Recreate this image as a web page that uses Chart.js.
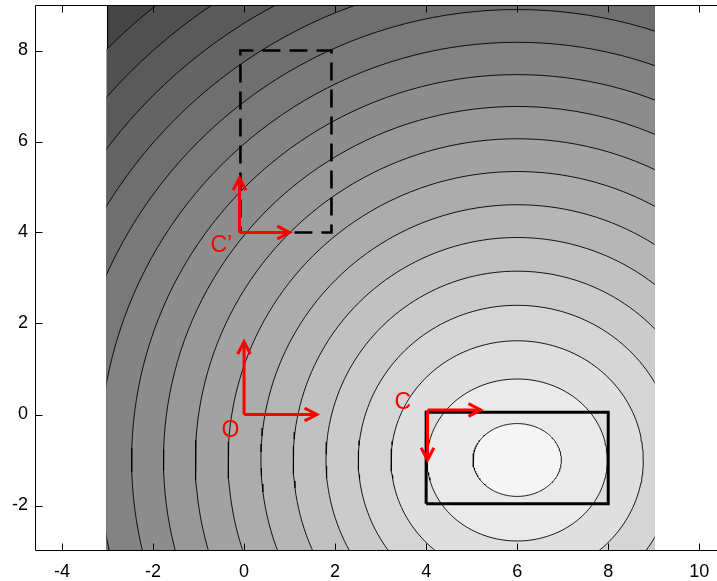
<!DOCTYPE html>
<html><head><meta charset="utf-8">
<script src="https://cdn.jsdelivr.net/npm/chart.js@4/dist/chart.umd.min.js"></script>
<style>html,body{margin:0;padding:0;background:#fff;}#wrap{width:717px;height:581px;position:relative;}</style>
</head><body><div id="wrap"><canvas id="c"></canvas></div>
<script>
// ---- data ----
const xTicks = [-4, -2, 0, 2, 4, 6, 8, 10];
const yTicks = [-2, 0, 2, 4, 6, 8];
const xRange = [-4.593, 10.39];
const yRange = [-3, 9];
const fieldX = [-3, 9];
const fieldY = [-3, 9];
const center = [6, -1];
// contour radii (horizontal / vertical), innermost first
const levelRx = [0.97, 1.98, 2.77, 3.49, 4.20, 4.92, 5.63, 6.35, 7.07, 7.77, 8.47, 9.18, 9.90, 10.61, 11.32, 12.04, 12.76];
const levelRy = [0.80, 1.78, 2.62, 3.40, 4.15, 4.89, 5.61, 6.34, 7.06, 7.77, 8.47, 9.18, 9.90, 10.61, 11.32, 12.04, 12.76];
// gray value of each band, innermost band first, last = outside all contours
const bandGray = [245, 234, 223, 213, 203, 193, 182, 172, 162, 152, 141, 131, 121, 111, 100, 90, 80, 70];
const solidRect = [[4, -1.96], [8, 0.05]];
const dashedRect = [[-0.08, 4], [1.92, 8]];
const arrowFrom = [[0, 0], [0, 0], [-0.1, 4], [-0.1, 4], [4.03, 0.1], [4.03, 0.1]];
const arrowTo = [[1.6, 0], [0, 1.6], [1.0, 4], [-0.1, 5.2], [5.2, 0.1], [4.03, -1.0]];
const labelText = ['O', 'C\u2019', 'C'];
const labelPos = [[-0.3, -0.35], [-0.5, 3.7], [3.49, 0.25]];

const gray = v => `rgb(${v},${v},${v})`;
const datasets = [];

// field background (outermost band)
datasets.push({
  data: [{x: fieldX[0], y: fieldY[0]}, {x: fieldX[1], y: fieldY[0]}, {x: fieldX[1], y: fieldY[1]}, {x: fieldX[0], y: fieldY[1]}, {x: fieldX[0], y: fieldY[0]}],
  showLine: true, fill: 'shape', backgroundColor: gray(bandGray[bandGray.length - 1]),
  borderColor: '#000', borderWidth: 1.2, pointRadius: 0, order: 100
});
// contours, largest drawn first
levelRx.forEach((rx, k) => {
  const ry = levelRy[k];
  const pts = [];
  const N = 200;
  for (let i = 0; i <= N; i++) {
    const t = 2 * Math.PI * i / N;
    pts.push({x: center[0] + rx * Math.cos(t), y: center[1] + ry * Math.sin(t)});
  }
  datasets.push({
    data: pts, showLine: true, fill: 'shape', backgroundColor: gray(bandGray[k]),
    borderColor: '#000', borderWidth: 0.9, pointRadius: 0, order: 50 + k
  });
});
// rectangles
function rectPts(r) {
  const [a, b] = r;
  return [{x: a[0], y: a[1]}, {x: b[0], y: a[1]}, {x: b[0], y: b[1]}, {x: a[0], y: b[1]}, {x: a[0], y: a[1]}];
}
datasets.push({data: rectPts(solidRect), showLine: true, fill: false, borderColor: '#000', borderWidth: 3, pointRadius: 0, order: 5, borderJoinStyle: 'miter'});
datasets.push({data: rectPts(dashedRect), showLine: true, fill: false, borderColor: '#000', borderWidth: 2.6, borderDash: [18, 9], pointRadius: 0, order: 5, borderJoinStyle: 'miter'});
// arrows
const headBack = 0.27, headHalf = 0.14;
arrowFrom.forEach((f, i) => {
  const t = arrowTo[i];
  const dx = t[0] - f[0], dy = t[1] - f[1];
  const L = Math.hypot(dx, dy), ux = dx / L, uy = dy / L;
  datasets.push({data: [{x: f[0], y: f[1]}, {x: t[0], y: t[1]}], showLine: true, fill: false, borderColor: '#ff0000', borderWidth: 3, pointRadius: 0, order: 1});
  datasets.push({data: [
      {x: t[0] - ux * headBack - uy * headHalf, y: t[1] - uy * headBack + ux * headHalf},
      {x: t[0], y: t[1]},
      {x: t[0] - ux * headBack + uy * headHalf, y: t[1] - uy * headBack - ux * headHalf}],
    showLine: true, fill: false, borderColor: '#ff0000', borderWidth: 3, pointRadius: 0, order: 1, borderJoinStyle: 'miter'});
});

const framePlugin = {
  id: 'frame',
  beforeDatasetsDraw(chart) {
    const {ctx, scales: {x, y}} = chart;
    ctx.save();
    ctx.beginPath();
    const l = x.getPixelForValue(fieldX[0]), r = x.getPixelForValue(fieldX[1]);
    const tp = y.getPixelForValue(fieldY[1]), bt = y.getPixelForValue(fieldY[0]);
    ctx.rect(l - 1, tp, r - l + 2, bt - tp);
    ctx.clip();
  },
  afterDatasetsDraw(chart) {
    chart.ctx.restore();
  },
  afterDraw(chart) {
    const {ctx, chartArea: ca, scales: {x, y}} = chart;
    ctx.save();
    ctx.strokeStyle = '#000';
    ctx.lineWidth = 1;
    const top = Math.round(ca.top) + 0.5, bot = Math.round(ca.bottom) - 0.5, left = Math.round(ca.left) + 0.5;
    ctx.beginPath();
    ctx.moveTo(left, top); ctx.lineTo(ca.right + 2, top);
    ctx.moveTo(left, bot); ctx.lineTo(ca.right + 2, bot);
    ctx.moveTo(left, top); ctx.lineTo(left, bot);
    xTicks.forEach(v => {
      const px = Math.round(x.getPixelForValue(v)) + 0.5;
      ctx.moveTo(px, bot); ctx.lineTo(px, bot - 7);
      ctx.moveTo(px, top); ctx.lineTo(px, top + 7);
    });
    yTicks.forEach(v => {
      const py = Math.round(y.getPixelForValue(v)) + 0.5;
      ctx.moveTo(left, py); ctx.lineTo(left + 7, py);
    });
    ctx.stroke();
    ctx.fillStyle = '#ff0000';
    ctx.font = '23px "Liberation Sans", Arial, sans-serif';
    ctx.textAlign = 'center';
    ctx.textBaseline = 'middle';
    labelText.forEach((s, i) => {
      ctx.fillText(s, x.getPixelForValue(labelPos[i][0]), y.getPixelForValue(labelPos[i][1]));
    });
    ctx.restore();
  }
};

new Chart(document.getElementById('c'), {
  type: 'scatter',
  data: {datasets},
  options: {
    responsive: true, maintainAspectRatio: false, animation: false,
    layout: {padding: {top: 5, right: 0, left: 0, bottom: 0}},
    plugins: {legend: {display: false}, tooltip: {enabled: false}},
    elements: {line: {tension: 0}},
    scales: {
      x: {
        type: 'linear', min: xRange[0], max: xRange[1],
        grid: {display: false, drawTicks: false}, border: {display: false},
        afterBuildTicks: s => { s.ticks = xTicks.map(v => ({value: v})); },
        afterFit: s => { s.height = 30; s.paddingLeft = 0; s.paddingRight = 0; },
        ticks: {font: {family: '"Liberation Sans", Arial, sans-serif', size: 18}, color: '#000', padding: 10, maxRotation: 0, autoSkip: false}
      },
      y: {
        type: 'linear', min: yRange[0], max: yRange[1],
        grid: {display: false, drawTicks: false}, border: {display: false},
        afterBuildTicks: s => { s.ticks = yTicks.map(v => ({value: v})); },
        afterFit: s => { s.width = 35; s.paddingTop = 0; s.paddingBottom = 0; },
        ticks: {font: {family: '"Liberation Sans", Arial, sans-serif', size: 18}, color: '#000', padding: 7, autoSkip: false}
      }
    }
  },
  plugins: [framePlugin]
});
</script></body></html>
